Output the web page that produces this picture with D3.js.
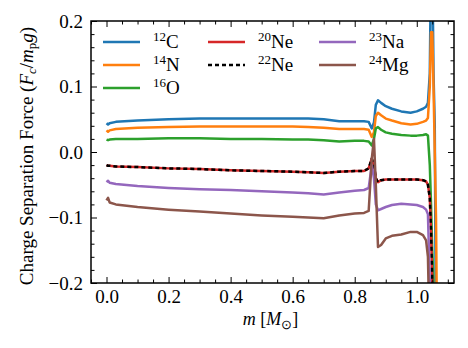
<!DOCTYPE html>
<html>
<head>
<meta charset="utf-8">
<script src="https://cdn.jsdelivr.net/npm/d3@7"></script>
<style>
  body { margin: 0; background: #fff; }
  text { font-family: "Liberation Serif", "Times New Roman", serif; fill: #000; }
</style>
</head>
<body>
<div id="chart"></div>
<script>
var svgWidth = 468;
var svgHeight = 348;

// plot frame
var margin = { top: 21, right: 14, bottom: 65, left: 91 };
var width = svgWidth - margin.left - margin.right;
var height = svgHeight - margin.top - margin.bottom;

// mass coordinate (shared grid)
var massGrid = [0, 0.005, 0.01, 0.03, 0.1, 0.2, 0.3, 0.4, 0.5, 0.6, 0.65, 0.7, 0.75, 0.8, 0.83,
  0.845, 0.855, 0.862, 0.868, 0.875, 0.885, 0.9, 0.92, 0.95, 0.98, 1.0, 1.02, 1.03, 1.036,
  1.042, 1.046, 1.05, 1.054, 1.058, 1.062, 1.066];

// series values
var c12 = [0.044, 0.042, 0.044, 0.046, 0.048, 0.050, 0.051, 0.051, 0.051, 0.051, 0.051, 0.050, 0.047, 0.047, 0.047,
  0.046, 0.036, 0.045, 0.072, 0.079, 0.075, 0.070, 0.066, 0.062, 0.060, 0.062, 0.066, 0.069, 0.075,
  0.12, 0.3, 0.3, 0.12, 0.04, -0.3, -0.3];
var n14 = [0.033, 0.031, 0.033, 0.035, 0.037, 0.038, 0.039, 0.039, 0.039, 0.039, 0.038, 0.037, 0.035, 0.035, 0.035,
  0.034, 0.023, 0.030, 0.055, 0.060, 0.056, 0.051, 0.048, 0.044, 0.042, 0.043, 0.046, 0.048, 0.052,
  0.10, 0.183, 0.183, 0.10, 0.0, -0.1, -0.3];
var o16 = [0.019, 0.018, 0.019, 0.020, 0.020, 0.021, 0.021, 0.020, 0.020, 0.019, 0.019, 0.018, 0.016, 0.017, 0.017,
  0.016, 0.010, 0.020, 0.036, 0.038, 0.034, 0.030, 0.028, 0.026, 0.025, 0.025, 0.026, 0.027, 0.025,
  -0.02, -0.08, -0.15, -0.2, -0.3, -0.3, -0.3];
var ne20 = [-0.020, -0.021, -0.021, -0.022, -0.023, -0.025, -0.026, -0.028, -0.029, -0.030, -0.031, -0.032, -0.030, -0.029, -0.029,
  -0.025, -0.010, -0.020, -0.040, -0.046, -0.043, -0.042, -0.042, -0.042, -0.042, -0.042, -0.043, -0.045, -0.050,
  -0.07, -0.12, -0.2, -0.3, -0.3, -0.3, -0.3];
var ne22 = ne20.slice();
var na23 = [-0.046, -0.044, -0.047, -0.049, -0.052, -0.055, -0.057, -0.058, -0.060, -0.062, -0.063, -0.065, -0.062, -0.059, -0.058,
  -0.055, -0.020, -0.040, -0.080, -0.089, -0.087, -0.084, -0.081, -0.079, -0.080, -0.081, -0.084, -0.088, -0.095,
  -0.2, -0.3, -0.3, -0.3, -0.3, -0.3, -0.3];
var mg24 = [-0.074, -0.070, -0.077, -0.080, -0.084, -0.088, -0.091, -0.094, -0.097, -0.099, -0.100, -0.101, -0.097, -0.094, -0.093,
  -0.090, -0.010, 0.020, -0.050, -0.145, -0.142, -0.132, -0.128, -0.126, -0.122, -0.122, -0.127, -0.135, -0.160,
  -0.3, -0.3, -0.3, -0.3, -0.3, -0.3, -0.3];

var seriesNames = ["12C", "14N", "16O", "20Ne", "22Ne", "23Na", "24Mg"];
var seriesValues = [c12, n14, o16, ne20, ne22, na23, mg24];
var seriesColors = ["#1f77b4", "#ff7f0e", "#2ca02c", "#d62728", "#000000", "#9467bd", "#8c564b"];

var xTicks = [0, 0.2, 0.4, 0.6, 0.8, 1.0];
var yTicks = [-0.2, -0.1, 0, 0.1, 0.2];

var svg = d3.select("#chart")
  .append("svg")
  .attr("width", svgWidth)
  .attr("height", svgHeight);

var chartGroup = svg.append("g")
  .attr("transform", `translate(${margin.left}, ${margin.top})`);

var xScale = d3.scaleLinear().domain([-0.05, 1.12]).range([0, width]);
var yScale = d3.scaleLinear().domain([-0.2, 0.2]).range([height, 0]);

svg.append("defs").append("clipPath").attr("id", "clip")
  .append("rect").attr("width", width).attr("height", height);

// lines
var line = d3.line()
  .x((d, i) => xScale(massGrid[i]))
  .y(d => yScale(d));

var linesGroup = chartGroup.append("g").attr("clip-path", "url(#clip)");
seriesValues.forEach(function(vals, k) {
  linesGroup.append("path")
    .datum(vals)
    .attr("d", line)
    .attr("fill", "none")
    .attr("stroke", seriesColors[k])
    .attr("stroke-width", 2.5)
    .attr("stroke-linejoin", "round")
    .attr("stroke-dasharray", seriesNames[k] === "22Ne" ? "4,3" : null);
});

// axes, ticks inward on all four sides
var fmt = d => d3.format(".1f")(d).replace("-", "\u2212");
var xMinor = d3.range(-0.05, 1.1201, 0.05).filter(v => xTicks.every(t => Math.abs(t - v) > 1e-6));
var yMinor = d3.range(-0.2, 0.2001, 0.02).filter(v => yTicks.every(t => Math.abs(t - v) > 1e-6));

function styleAxis(g) {
  g.select(".domain").remove();
  g.selectAll("line").attr("stroke", "#000").attr("stroke-width", 1);
  g.selectAll("text").attr("font-size", 19).style("font-family", "'Liberation Serif', serif");
}

chartGroup.append("g").attr("transform", `translate(0, ${height})`)
  .call(d3.axisBottom(xScale).tickValues(xTicks).tickFormat(fmt).tickSizeInner(-6).tickPadding(7))
  .call(styleAxis);
chartGroup.append("g").attr("transform", `translate(0, ${height})`)
  .call(d3.axisBottom(xScale).tickValues(xMinor).tickFormat("").tickSizeInner(-3.5))
  .call(styleAxis);
chartGroup.append("g")
  .call(d3.axisTop(xScale).tickValues(xTicks).tickFormat("").tickSizeInner(-6))
  .call(styleAxis);
chartGroup.append("g")
  .call(d3.axisTop(xScale).tickValues(xMinor).tickFormat("").tickSizeInner(-3.5))
  .call(styleAxis);

chartGroup.append("g")
  .call(d3.axisLeft(yScale).tickValues(yTicks).tickFormat(fmt).tickSizeInner(-6).tickPadding(8))
  .call(styleAxis);
chartGroup.append("g")
  .call(d3.axisLeft(yScale).tickValues(yMinor).tickFormat("").tickSizeInner(-3.5))
  .call(styleAxis);
chartGroup.append("g").attr("transform", `translate(${width}, 0)`)
  .call(d3.axisRight(yScale).tickValues(yTicks).tickFormat("").tickSizeInner(-6))
  .call(styleAxis);
chartGroup.append("g").attr("transform", `translate(${width}, 0)`)
  .call(d3.axisRight(yScale).tickValues(yMinor).tickFormat("").tickSizeInner(-3.5))
  .call(styleAxis);

// frame
chartGroup.append("rect")
  .attr("width", width).attr("height", height)
  .attr("fill", "none").attr("stroke", "#000").attr("stroke-width", 1.5);

// legend: three columns
var legendPos = [[12, 21], [12, 44], [12, 67], [117, 21], [117, 44], [228, 21], [228, 44]];
seriesNames.forEach(function(name, k) {
  var p = legendPos[k];
  var g = chartGroup.append("g").attr("transform", `translate(${p[0]}, ${p[1]})`);
  g.append("line")
    .attr("x1", 0).attr("x2", 37).attr("y1", 0).attr("y2", 0)
    .attr("stroke", seriesColors[k]).attr("stroke-width", 2.5)
    .attr("stroke-dasharray", name === "22Ne" ? "4,3" : null);
  var num = name.match(/^\d+/)[0];
  var el = name.slice(num.length);
  var t = g.append("text").attr("x", 50).attr("y", 6).attr("font-size", 19);
  t.append("tspan").attr("font-size", 13).attr("dy", -7).text(num);
  t.append("tspan").attr("dy", 7).text(el);
});

// axis labels
var xl = svg.append("text")
  .attr("x", margin.left + width / 2 - 2).attr("y", 325)
  .attr("text-anchor", "middle").attr("font-size", 18);
xl.append("tspan").attr("font-style", "italic").text("m");
xl.append("tspan").text(" [");
xl.append("tspan").attr("font-style", "italic").text("M");
xl.append("tspan").attr("font-size", 13).attr("dy", 4).text("\u2299");
xl.append("tspan").attr("dy", -4).text("]");

var yl = svg.append("text")
  .attr("transform", `translate(33, 156) rotate(-90)`)
  .attr("text-anchor", "middle").attr("font-size", 19);
yl.append("tspan").text("Charge Separation Force (");
yl.append("tspan").attr("font-style", "italic").text("F");
yl.append("tspan").attr("font-style", "italic").attr("font-size", 13).attr("dy", 3).text("c");
yl.append("tspan").attr("dy", -3).text("/");
yl.append("tspan").attr("font-style", "italic").text("m");
yl.append("tspan").attr("font-size", 13).attr("dy", 3).text("p");
yl.append("tspan").attr("font-style", "italic").attr("dy", -3).text("g");
yl.append("tspan").text(")");
</script>
</body>
</html>
